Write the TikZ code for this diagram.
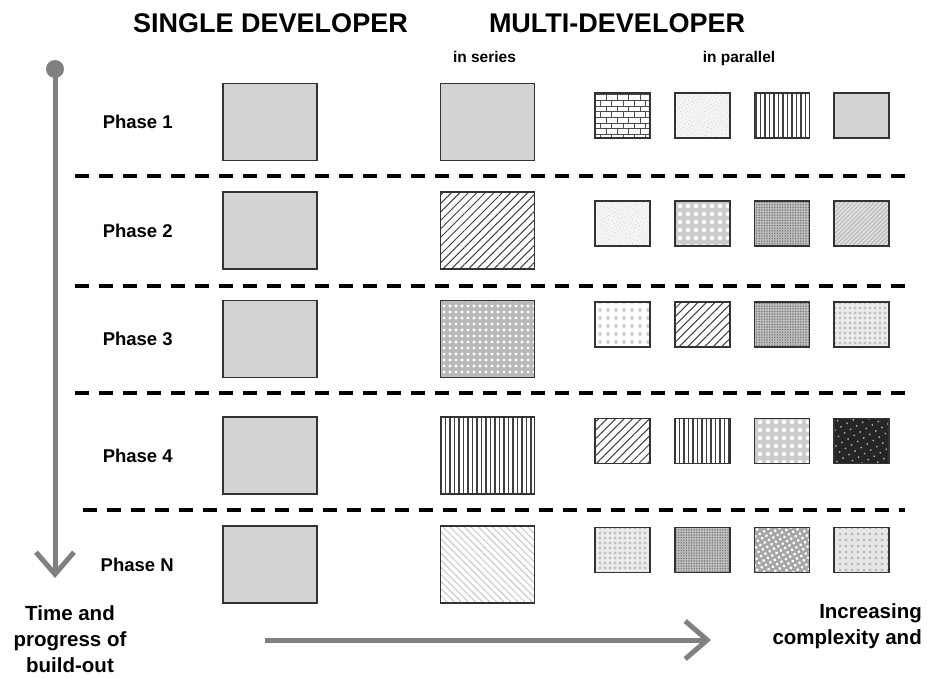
\documentclass[tikz,border=0pt]{standalone}
\usepackage{fontspec}
\setmainfont{Liberation Sans}
\usepackage{xcolor}
\usetikzlibrary{arrows.meta, positioning, patterns, patterns.meta}

\definecolor{boxgray}{RGB}{211,211,211}
\definecolor{arrgray}{RGB}{128,128,128}

\begin{document}
\begin{tikzpicture}[
  x=1pt, y=-1pt,
  title/.style={font=\fontsize{27}{30}\selectfont\bfseries},
  sub/.style  ={font=\fontsize{15.5}{18}\selectfont\bfseries},
  phase/.style={font=\fontsize{18.5}{22}\selectfont\bfseries},
  note/.style ={font=\fontsize{20.5}{26}\selectfont\bfseries, inner sep=0pt},
  big/.style  ={rectangle, draw=black!80, line width=1.5pt, minimum width=94pt,
                minimum height=77pt, inner sep=0pt},
  small/.style={big, line width=1.7pt, minimum width=55pt, minimum height=45pt},
  plain/.style    ={fill=boxgray},
  diag/.style     ={pattern={Lines[angle=45, distance=6pt, line width=1pt]}, pattern color=black!75},
  diaglight/.style={pattern={Lines[angle=-45, distance=5pt, line width=1pt]}, pattern color=gray!45},
  vert/.style     ={pattern={Lines[angle=90, distance=4.5pt, line width=1.3pt]}, pattern color=black!75},
  dotgrid/.style  ={preaction={fill=gray!55}, pattern={Dots[radius=1.6pt, distance=6pt]}, pattern color=white},
  brick/.style    ={pattern=bricks, pattern color=black!70},
  speck/.style    ={preaction={fill=gray!8}, pattern={Dots[radius=0.5pt, distance=3pt, angle=30]}, pattern color=gray!45},
  whitegrid/.style={preaction={fill=gray!40}, pattern={Dots[radius=2.2pt, distance=8pt]}, pattern color=white},
  darkdot/.style  ={preaction={fill=gray!50}, pattern={Dots[radius=0.8pt, distance=2.6pt]}, pattern color=black!55},
  finediag/.style ={preaction={fill=gray!25}, pattern={Lines[angle=45, distance=3pt, line width=0.8pt]}, pattern color=gray!60},
  palespot/.style ={pattern={Dots[radius=2pt, distance=8pt]}, pattern color=gray!35},
  checker/.style  ={preaction={fill=gray!15}, pattern={Dots[radius=1.6pt, distance=5pt]}, pattern color=gray!50},
  night/.style    ={preaction={fill=black!85}, pattern={Dots[radius=1pt, distance=7pt, angle=30]}, pattern color=gray!60},
  hexdot/.style   ={preaction={fill=gray!70}, pattern={Dots[radius=1.6pt, distance=5pt, angle=30]}, pattern color=white},
  lightgrid/.style={preaction={fill=gray!20}, pattern={Dots[radius=1.3pt, distance=6pt]}, pattern color=gray!60},
  sep/.style  ={line width=4pt, dash pattern=on 14pt off 10pt},
  timearr/.style={line width=5pt, arrgray, -{Straight Barb[length=22pt, width=38pt]}},
]
\useasboundingbox (0,0) rectangle (927,678);

% headings
\node[title] (single) at (270.5,23) {SINGLE DEVELOPER};
\node[title] (multi)  at (617,23)   {MULTI-DEVELOPER};
\node[sub]   (series)   at (484.5,57) {in series};
\node[sub]   (parallel) at (739,58)   {in parallel};

% single developer column
\node[big, plain] (S1) at (270,122)   {};
\node[big, plain] (S2) at (270,230.5) {};
\node[big, plain] (S3) at (270,339)   {};
\node[big, plain] (S4) at (270,455.5) {};
\node[big, plain] (S5) at (270,564.5) {};

\node[phase, left=46pt of S1] (L1) {Phase 1};
\node[phase, left=46pt of S2] (L2) {Phase 2};
\node[phase, left=46pt of S3] (L3) {Phase 3};
\node[phase, left=46pt of S4] (L4) {Phase 4};
\node[phase, left=45pt of S5] (L5) {Phase N};

% in series
\node[big, plain,     right=122pt of S1] (R1) {};
\node[big, diag,      right=122pt of S2] (R2) {};
\node[big, dotgrid,   right=122pt of S3] (R3) {};
\node[big, vert,      right=122pt of S4] (R4) {};
\node[big, diaglight, right=122pt of S5] (R5) {};

% in parallel
\node[small, brick]     (P11) at (622.5,115.5) {};
\node[small, speck,     right=23pt of P11] (P12) {};
\node[small, vert,      right=23pt of P12] (P13) {};
\node[small, plain,     right=23pt of P13] (P14) {};

\node[small, speck]     (P21) at (622.5,223.5) {};
\node[small, whitegrid, right=23pt of P21] (P22) {};
\node[small, darkdot,   right=23pt of P22] (P23) {};
\node[small, finediag,  right=23pt of P23] (P24) {};

\node[small, palespot]  (P31) at (622.5,324.5) {};
\node[small, diag,      right=23pt of P31] (P32) {};
\node[small, darkdot,   right=23pt of P32] (P33) {};
\node[small, checker,   right=23pt of P33] (P34) {};

\node[small, diag]      (P41) at (622.5,441) {};
\node[small, vert,      right=23pt of P41] (P42) {};
\node[small, whitegrid, right=23pt of P42] (P43) {};
\node[small, night,     right=23pt of P43] (P44) {};

\node[small, checker]   (P51) at (622.5,550) {};
\node[small, darkdot,   right=23pt of P51] (P52) {};
\node[small, hexdot,    right=23pt of P52] (P53) {};
\node[small, lightgrid, right=23pt of P53] (P54) {};

% phase separators
\draw[sep] (75,176) -- (905,176);
\draw[sep] (75,286) -- (905,286);
\draw[sep] (75,393) -- (905,393);
\draw[sep] (83,510) -- (905,510);

% time arrow
\node[circle, fill=arrgray, minimum size=18pt, inner sep=0pt] (start) at (55,69) {};
\coordinate (stop) at (55,578);
\draw[timearr] (start.center) -- (stop);

% complexity arrow
\coordinate (from) at (265,640);
\coordinate (to)   at (711,640);
\draw[timearr] (from) -- (to);

\node[note, align=center] (time) at (70,639) {Time and\\progress of\\build-out};
\node[note, align=right, anchor=north east] (complex) at (922,603) {Increasing\\complexity and};
\end{tikzpicture}
\end{document}
